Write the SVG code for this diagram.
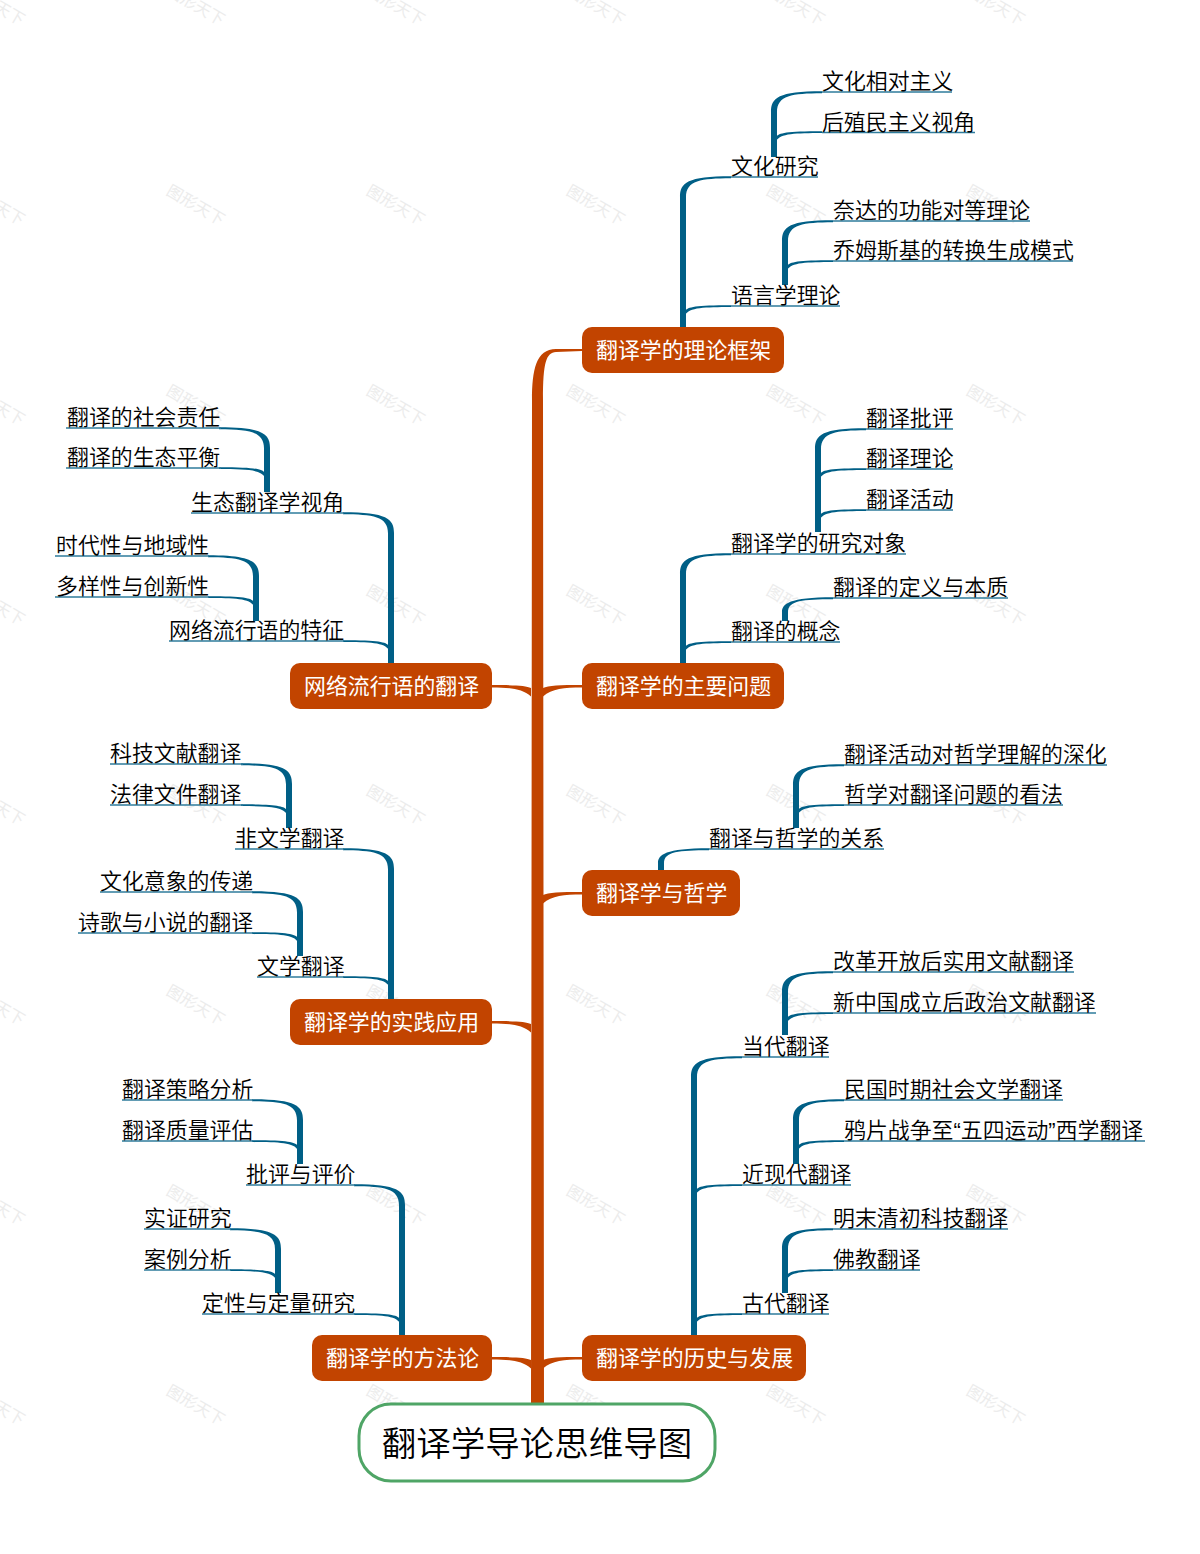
<svg xmlns="http://www.w3.org/2000/svg" width="1200" height="1554" viewBox="0 0 1200 1554">
<style>
text{font-family:"Noto Sans CJK SC","Liberation Sans",sans-serif}
.wm{font-size:16px;fill:#ececec;text-anchor:middle}
.trunk{fill:#c24400}
.b{fill:#005f86}
.ul{fill:none;stroke:#2f7c9c;stroke-width:1.5}
.main rect{fill:#c24400}
.main text{font-size:21.900px;fill:#fff}
.lab text{font-size:21.900px;fill:#000;font-weight:350}
.q{font-family:"Liberation Sans",sans-serif}
</style>
<rect width="1200" height="1554" fill="#fff"/>
<g id="watermark">
<text class="wm" transform="translate(-7,10) rotate(30)">图形天下</text><text class="wm" transform="translate(193,10) rotate(30)">图形天下</text><text class="wm" transform="translate(393,10) rotate(30)">图形天下</text><text class="wm" transform="translate(593,10) rotate(30)">图形天下</text><text class="wm" transform="translate(793,10) rotate(30)">图形天下</text><text class="wm" transform="translate(993,10) rotate(30)">图形天下</text>
<text class="wm" transform="translate(-7,210) rotate(30)">图形天下</text><text class="wm" transform="translate(193,210) rotate(30)">图形天下</text><text class="wm" transform="translate(393,210) rotate(30)">图形天下</text><text class="wm" transform="translate(593,210) rotate(30)">图形天下</text><text class="wm" transform="translate(793,210) rotate(30)">图形天下</text><text class="wm" transform="translate(993,210) rotate(30)">图形天下</text>
<text class="wm" transform="translate(-7,410) rotate(30)">图形天下</text><text class="wm" transform="translate(193,410) rotate(30)">图形天下</text><text class="wm" transform="translate(393,410) rotate(30)">图形天下</text><text class="wm" transform="translate(593,410) rotate(30)">图形天下</text><text class="wm" transform="translate(793,410) rotate(30)">图形天下</text><text class="wm" transform="translate(993,410) rotate(30)">图形天下</text>
<text class="wm" transform="translate(-7,610) rotate(30)">图形天下</text><text class="wm" transform="translate(193,610) rotate(30)">图形天下</text><text class="wm" transform="translate(393,610) rotate(30)">图形天下</text><text class="wm" transform="translate(593,610) rotate(30)">图形天下</text><text class="wm" transform="translate(793,610) rotate(30)">图形天下</text><text class="wm" transform="translate(993,610) rotate(30)">图形天下</text>
<text class="wm" transform="translate(-7,810) rotate(30)">图形天下</text><text class="wm" transform="translate(193,810) rotate(30)">图形天下</text><text class="wm" transform="translate(393,810) rotate(30)">图形天下</text><text class="wm" transform="translate(593,810) rotate(30)">图形天下</text><text class="wm" transform="translate(793,810) rotate(30)">图形天下</text><text class="wm" transform="translate(993,810) rotate(30)">图形天下</text>
<text class="wm" transform="translate(-7,1010) rotate(30)">图形天下</text><text class="wm" transform="translate(193,1010) rotate(30)">图形天下</text><text class="wm" transform="translate(393,1010) rotate(30)">图形天下</text><text class="wm" transform="translate(593,1010) rotate(30)">图形天下</text><text class="wm" transform="translate(793,1010) rotate(30)">图形天下</text><text class="wm" transform="translate(993,1010) rotate(30)">图形天下</text>
<text class="wm" transform="translate(-7,1210) rotate(30)">图形天下</text><text class="wm" transform="translate(193,1210) rotate(30)">图形天下</text><text class="wm" transform="translate(393,1210) rotate(30)">图形天下</text><text class="wm" transform="translate(593,1210) rotate(30)">图形天下</text><text class="wm" transform="translate(793,1210) rotate(30)">图形天下</text><text class="wm" transform="translate(993,1210) rotate(30)">图形天下</text>
<text class="wm" transform="translate(-7,1410) rotate(30)">图形天下</text><text class="wm" transform="translate(193,1410) rotate(30)">图形天下</text><text class="wm" transform="translate(393,1410) rotate(30)">图形天下</text><text class="wm" transform="translate(593,1410) rotate(30)">图形天下</text><text class="wm" transform="translate(793,1410) rotate(30)">图形天下</text><text class="wm" transform="translate(993,1410) rotate(30)">图形天下</text>
</g>
<g id="connectors">
<g class="trunk">
<path d="M531,1404 L532,400 C532,370 536,349 556,349 L582,349 v2 L556,352 C546,353 543,362 543,400 L544,1404 z"/>
<path d="M543,688 c5,-2.500 17,-3 39,-3 v2.500 c-18,0 -30,1 -39,9 z"/>
<path d="M543,895 c5,-2.500 17,-3 39,-3 v2.500 c-18,0 -30,1 -39,9 z"/>
<path d="M543,1360 c5,-2.500 17,-3 39,-3 v2.500 c-18,0 -30,1 -39,9 z"/>
<path d="M531,688 c-5,-2.500 -17,-3 -39,-3 v2.500 c18,0 30,1 39,9 z"/>
<path d="M531,1024 c-5,-2.500 -17,-3 -39,-3 v2.500 c18,0 30,1 39,9 z"/>
<path d="M531,1360 c-5,-2.500 -17,-3 -39,-3 v2.500 c18,0 30,1 39,9 z"/>
</g>
<g class="b">
<path d="M680,327 V197 c0,-14 7,-20.700 51,-20.700 v2 c-30,.2 -45,2 -45,19 V327 z"/>
<path d="M685,311 c3,-4 10,-5.700 46,-5.700 v1.800 c-26,.2 -42,.2 -46,8.300 z"/>
<path d="M771,157 V112 c0,-14 7,-20.700 51,-20.700 v2 c-30,.2 -45,2 -45,19 V157 z"/>
<path d="M776,137 c3,-4 10,-5.700 46,-5.700 v1.800 c-26,.2 -42,.2 -46,8.300 z"/>
<path d="M782,285 V241 c0,-14 7,-20.700 51,-20.700 v2 c-30,.2 -45,2 -45,19 V285 z"/>
<path d="M787,266 c3,-4 10,-5.700 46,-5.700 v1.800 c-26,.2 -42,.2 -46,8.300 z"/>

<path d="M680,663 V574 c0,-14 7,-20.700 51,-20.700 v2 c-30,.2 -45,2 -45,19 V663 z"/>
<path d="M685,647 c3,-4 10,-5.700 46,-5.700 v1.800 c-26,.2 -42,.2 -46,8.300 z"/>
<path d="M815,532 V449 c0,-14 7,-20.700 51,-20.700 v2 c-30,.2 -45,2 -45,19 V532 z"/>
<path d="M820,474 c3,-4 10,-5.700 46,-5.700 v1.800 c-26,.2 -42,.2 -46,8.300 z"/>
<path d="M820,515 c3,-4 10,-5.700 46,-5.700 v1.800 c-26,.2 -42,.2 -46,8.300 z"/>
<path d="M782,621 V612 c0,-8 7,-14.700 51,-14.700 v2 c-30,.2 -45,1 -45,13 V621 z"/>

<path d="M658,870 V863 c0,-8 7,-14.700 51,-14.700 v2 c-30,.2 -45,1 -45,13 V870 z"/>
<path d="M793,828 V785 c0,-14 7,-20.700 51,-20.700 v2 c-30,.2 -45,2 -45,19 V828 z"/>
<path d="M798,810 c3,-4 10,-5.700 46,-5.700 v1.800 c-26,.2 -42,.2 -46,8.300 z"/>

<path d="M691,1335 V1077 c0,-14 7,-20.700 51,-20.700 v2 c-30,.2 -45,2 -45,19 V1335 z"/>
<path d="M696,1190 c3,-4 10,-5.700 46,-5.700 v1.800 c-26,.2 -42,.2 -46,8.300 z"/>
<path d="M696,1319 c3,-4 10,-5.700 46,-5.700 v1.800 c-26,.2 -42,.2 -46,8.300 z"/>
<path d="M782,1035 V992 c0,-14 7,-20.700 51,-20.700 v2 c-30,.2 -45,2 -45,19 V1035 z"/>
<path d="M787,1018 c3,-4 10,-5.700 46,-5.700 v1.800 c-26,.2 -42,.2 -46,8.300 z"/>
<path d="M793,1164 V1120 c0,-14 7,-20.700 51,-20.700 v2 c-30,.2 -45,2 -45,19 V1164 z"/>
<path d="M798,1146 c3,-4 10,-5.700 46,-5.700 v1.800 c-26,.2 -42,.2 -46,8.300 z"/>
<path d="M782,1293 V1249 c0,-14 7,-20.700 51,-20.700 v2 c-30,.2 -45,2 -45,19 V1293 z"/>
<path d="M787,1275 c3,-4 10,-5.700 46,-5.700 v1.800 c-26,.2 -42,.2 -46,8.300 z"/>

<path d="M394,663 V533 c0,-14 -7,-20.700 -51,-20.700 v2 c30,.2 45,2 45,19 V663 z"/>
<path d="M389,646 c-3,-4 -10,-5.700 -46,-5.700 v1.800 c26,.2 42,.2 46,8.300 z"/>
<path d="M270,492 V448 c0,-14 -7,-20.700 -51,-20.700 v2 c30,.2 45,2 45,19 V492 z"/>
<path d="M265,473 c-3,-4 -10,-5.700 -46,-5.700 v1.800 c26,.2 42,.2 46,8.300 z"/>
<path d="M259,621 V576 c0,-14 -7,-20.700 -51,-20.700 v2 c30,.2 45,2 45,19 V621 z"/>
<path d="M254,602 c-3,-4 -10,-5.700 -46,-5.700 v1.800 c26,.2 42,.2 46,8.300 z"/>

<path d="M394,999 V869 c0,-14 -7,-20.700 -51,-20.700 v2 c30,.2 45,2 45,19 V999 z"/>
<path d="M389,982 c-3,-4 -10,-5.700 -46,-5.700 v1.800 c26,.2 42,.2 46,8.300 z"/>
<path d="M292,828 V784 c0,-14 -7,-20.700 -51,-20.700 v2 c30,.2 45,2 45,19 V828 z"/>
<path d="M287,810 c-3,-4 -10,-5.700 -46,-5.700 v1.800 c26,.2 42,.2 46,8.300 z"/>
<path d="M303,956 V912 c0,-14 -7,-20.700 -51,-20.700 v2 c30,.2 45,2 45,19 V956 z"/>
<path d="M298,938 c-3,-4 -10,-5.700 -46,-5.700 v1.800 c26,.2 42,.2 46,8.300 z"/>

<path d="M405,1335 V1205 c0,-14 -7,-20.700 -51,-20.700 v2 c30,.2 45,2 45,19 V1335 z"/>
<path d="M400,1319 c-3,-4 -10,-5.700 -46,-5.700 v1.800 c26,.2 42,.2 46,8.300 z"/>
<path d="M303,1164 V1120 c0,-14 -7,-20.700 -51,-20.700 v2 c30,.2 45,2 45,19 V1164 z"/>
<path d="M298,1146 c-3,-4 -10,-5.700 -46,-5.700 v1.800 c26,.2 42,.2 46,8.300 z"/>
<path d="M281,1293 V1249 c0,-14 -7,-20.700 -51,-20.700 v2 c30,.2 45,2 45,19 V1293 z"/>
<path d="M276,1275 c-3,-4 -10,-5.700 -46,-5.700 v1.800 c26,.2 42,.2 46,8.300 z"/>
</g>
<g class="ul">
<path d="M731,177H818M731,306H840M822,92H952M822,132.500H975M833,221H1030M833,261H1073"/>
<path d="M731,554H906M731,642H840M866,429H953M866,469H953M866,510H953M833,598H1008"/>
<path d="M709,849H884M844,765H1107M844,805H1063"/>
<path d="M742,1057H829M742,1185H851M742,1314H829M833,972H1074M833,1013H1096M844,1100H1063M844,1141H1145M833,1229H1008M833,1270H920"/>
<path d="M191,513H344M169,641H344M66,428H221M66,468H221M55,556H209M55,597H209"/>
<path d="M235,849H344M257,977H344M110,764H243M110,805H243M100,892H253M78,933H253"/>
<path d="M246,1185H355M202,1314H355M122,1100H253M122,1141H253M144,1229H231M144,1270H231"/>
</g>
</g>
<g id="root"><rect x="359" y="1404" width="356" height="77" rx="32" fill="#fff" stroke="#4fa566" stroke-width="3"/><text x="537" y="1455.500" font-size="34.500" fill="#000" font-weight="350" text-anchor="middle">翻译学导论思维导图</text></g>
<g class="main">
<g id="n1"><rect x="582" y="327" width="202" height="46" rx="10"/><text x="596" y="358">翻译学的理论框架</text></g>
<g id="n2"><rect x="582" y="663" width="202" height="46" rx="10"/><text x="596" y="694">翻译学的主要问题</text></g>
<g id="n3"><rect x="582" y="870" width="158" height="46" rx="10"/><text x="596" y="901">翻译学与哲学</text></g>
<g id="n4"><rect x="582" y="1335" width="224" height="46" rx="10"/><text x="596" y="1366">翻译学的历史与发展</text></g>
<g id="n5"><rect x="290" y="663" width="202" height="46" rx="10"/><text x="304" y="694">网络流行语的翻译</text></g>
<g id="n6"><rect x="290" y="999" width="202" height="46" rx="10"/><text x="304" y="1030">翻译学的实践应用</text></g>
<g id="n7"><rect x="312" y="1335" width="180" height="46" rx="10"/><text x="326" y="1366">翻译学的方法论</text></g>
</g>
<g class="lab" transform="translate(0,-.6)">
<g id="a1"><text x="731" y="175">文化研究</text></g>
<g id="a2"><text x="731" y="304">语言学理论</text></g>
<g id="a3"><text x="822" y="90">文化相对主义</text></g>
<g id="a4"><text x="822" y="131">后殖民主义视角</text></g>
<g id="a5"><text x="833" y="219">奈达的功能对等理论</text></g>
<g id="a6"><text x="833" y="259">乔姆斯基的转换生成模式</text></g>
<g id="b1"><text x="731" y="552">翻译学的研究对象</text></g>
<g id="b2"><text x="731" y="640">翻译的概念</text></g>
<g id="b3"><text x="866" y="427">翻译批评</text></g>
<g id="b4"><text x="866" y="467">翻译理论</text></g>
<g id="b5"><text x="866" y="508">翻译活动</text></g>
<g id="b6"><text x="833" y="596">翻译的定义与本质</text></g>
<g id="c1"><text x="709" y="847">翻译与哲学的关系</text></g>
<g id="c2"><text x="844" y="763">翻译活动对哲学理解的深化</text></g>
<g id="c3"><text x="844" y="803">哲学对翻译问题的看法</text></g>
<g id="d1"><text x="742" y="1055">当代翻译</text></g>
<g id="d2"><text x="742" y="1183">近现代翻译</text></g>
<g id="d3"><text x="742" y="1312">古代翻译</text></g>
<g id="d4"><text x="833" y="970">改革开放后实用文献翻译</text></g>
<g id="d5"><text x="833" y="1011">新中国成立后政治文献翻译</text></g>
<g id="d6"><text x="844" y="1098">民国时期社会文学翻译</text></g>
<g id="d7"><text x="844" y="1139">鸦片战争至<tspan class="q">“</tspan>五四运动<tspan class="q">”</tspan>西学翻译</text></g>
<g id="d8"><text x="833" y="1227">明末清初科技翻译</text></g>
<g id="d9"><text x="833" y="1268">佛教翻译</text></g>
<g id="e1"><text x="191" y="511">生态翻译学视角</text></g>
<g id="e2"><text x="169" y="639">网络流行语的特征</text></g>
<g id="e3"><text x="67" y="426">翻译的社会责任</text></g>
<g id="e4"><text x="67" y="466">翻译的生态平衡</text></g>
<g id="e5"><text x="56" y="554">时代性与地域性</text></g>
<g id="e6"><text x="56" y="595">多样性与创新性</text></g>
<g id="f1"><text x="235" y="847">非文学翻译</text></g>
<g id="f2"><text x="257" y="975">文学翻译</text></g>
<g id="f3"><text x="110" y="762">科技文献翻译</text></g>
<g id="f4"><text x="110" y="803">法律文件翻译</text></g>
<g id="f5"><text x="100" y="890">文化意象的传递</text></g>
<g id="f6"><text x="78" y="931">诗歌与小说的翻译</text></g>
<g id="g1"><text x="246" y="1183">批评与评价</text></g>
<g id="g2"><text x="202" y="1312">定性与定量研究</text></g>
<g id="g3"><text x="122" y="1098">翻译策略分析</text></g>
<g id="g4"><text x="122" y="1139">翻译质量评估</text></g>
<g id="g5"><text x="144" y="1227">实证研究</text></g>
<g id="g6"><text x="144" y="1268">案例分析</text></g>
</g>
</svg>
